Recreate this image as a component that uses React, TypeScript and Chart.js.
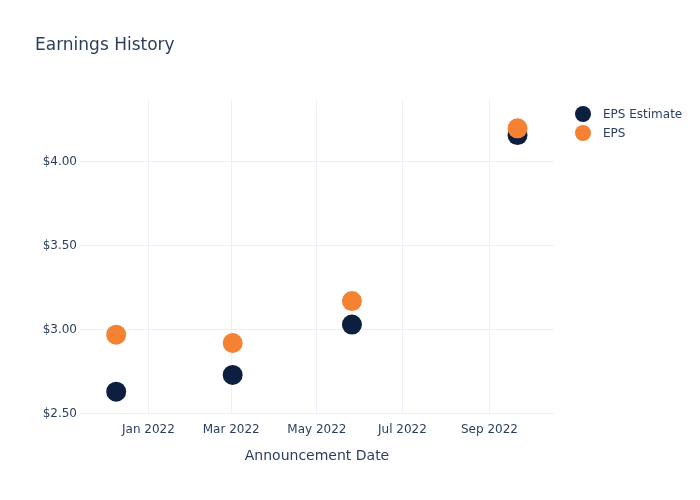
import React, { useEffect, useRef } from "react";
import { Chart, registerables } from "chart.js";

Chart.register(...registerables);

const announcementDates = ["2021-12-09", "2022-03-02", "2022-05-26", "2022-09-21"];
const epsEstimate = [2.63, 2.73, 3.03, 4.16];
const epsActual = [2.97, 2.92, 3.17, 4.2];
const xTickDates = ["2022-01-01", "2022-03-01", "2022-05-01", "2022-07-01", "2022-09-01"];
const xTickLabels = ["Jan 2022", "Mar 2022", "May 2022", "Jul 2022", "Sep 2022"];
const yTickValues = [2.5, 3.0, 3.5, 4.0];
const xRange = ["2021-11-13T05:00:00Z", "2022-10-17T00:00:00Z"];
const yRange = [2.5, 4.369];

const NAVY = "#0d1f3f";
const ORANGE = "#f58233";
const TEXT = "#2a3f5f";
const GRID = "#ebf0f8";
const FONT = "'DejaVu Sans', 'Open Sans', Verdana, sans-serif";

const ts = (d: string) => new Date(d.length === 10 ? d + "T00:00:00Z" : d).getTime();

const overlayPlugin = {
  id: "overlay",
  afterDraw(chart: any) {
    const ctx = chart.ctx;
    ctx.save();
    ctx.fillStyle = TEXT;
    ctx.font = `17px ${FONT}`;
    ctx.textAlign = "left";
    ctx.textBaseline = "alphabetic";
    ctx.fillText("Earnings History", 35, 50);
    const items = chart.data.datasets;
    items.forEach((ds: any, i: number) => {
      const y = 114 + i * 19;
      ctx.beginPath();
      ctx.arc(583, y, 8, 0, Math.PI * 2);
      ctx.fillStyle = ds.backgroundColor;
      ctx.fill();
      ctx.fillStyle = TEXT;
      ctx.font = `12px ${FONT}`;
      ctx.textBaseline = "middle";
      ctx.fillText(ds.label, 603, y + 1);
    });
    ctx.restore();
  },
};

export default function App() {
  const ref = useRef<HTMLCanvasElement | null>(null);
  useEffect(() => {
    if (!ref.current) return;
    const chart = new Chart(ref.current, {
      type: "scatter",
      data: {
        datasets: [
          {
            label: "EPS Estimate",
            data: announcementDates.map((d, i) => ({ x: ts(d), y: epsEstimate[i] })),
            backgroundColor: NAVY,
            borderColor: NAVY,
            pointRadius: 10,
            pointHoverRadius: 10,
            borderWidth: 0,
            order: 1,
          },
          {
            label: "EPS",
            data: announcementDates.map((d, i) => ({ x: ts(d), y: epsActual[i] })),
            backgroundColor: ORANGE,
            borderColor: ORANGE,
            pointRadius: 10,
            pointHoverRadius: 10,
            borderWidth: 0,
            order: 0,
          },
        ],
      },
      options: {
        animation: false,
        responsive: false,
        maintainAspectRatio: false,
        layout: { padding: { left: 0, right: 146, top: 100, bottom: 0 } },
        plugins: {
          legend: { display: false },
          title: { display: false },
          tooltip: { enabled: false },
        },
        scales: {
          x: {
            type: "linear",
            min: ts(xRange[0]),
            max: ts(xRange[1]),
            afterFit: (s: any) => {
              s.height = 86.5;
            },
            afterBuildTicks: (s: any) => {
              s.ticks = xTickDates.map((d) => ({ value: ts(d) }));
            },
            ticks: {
              color: TEXT,
              font: { family: FONT, size: 12 },
              padding: 9,
              maxRotation: 0,
              autoSkip: false,
              callback: (v: any) => {
                const i = xTickDates.findIndex((d) => ts(d) === v);
                return i >= 0 ? xTickLabels[i] : "";
              },
            },
            grid: { color: GRID, lineWidth: 1, drawTicks: false },
            border: { display: false },
            title: {
              display: true,
              text: "Announcement Date",
              color: TEXT,
              font: { family: FONT, size: 14 },
              padding: { top: 0, bottom: 35 },
            },
          },
          y: {
            type: "linear",
            min: yRange[0],
            max: yRange[1],
            afterFit: (s: any) => {
              s.width = 80;
            },
            afterBuildTicks: (s: any) => {
              s.ticks = yTickValues.map((v) => ({ value: v }));
            },
            ticks: {
              color: TEXT,
              font: { family: FONT, size: 12 },
              padding: 3,
              callback: (v: any) => "$" + Number(v).toFixed(2),
            },
            grid: { color: GRID, lineWidth: 1, drawTicks: false },
            border: { display: false },
          },
        },
      },
      plugins: [overlayPlugin],
    } as any);
    return () => chart.destroy();
  }, []);
  return (
    <div style={{ position: "absolute", left: 0, top: 0, width: 700, height: 500, background: "#fff" }}>
      <canvas ref={ref} width={700} height={500} style={{ width: 700, height: 500 }} />
    </div>
  );
}
